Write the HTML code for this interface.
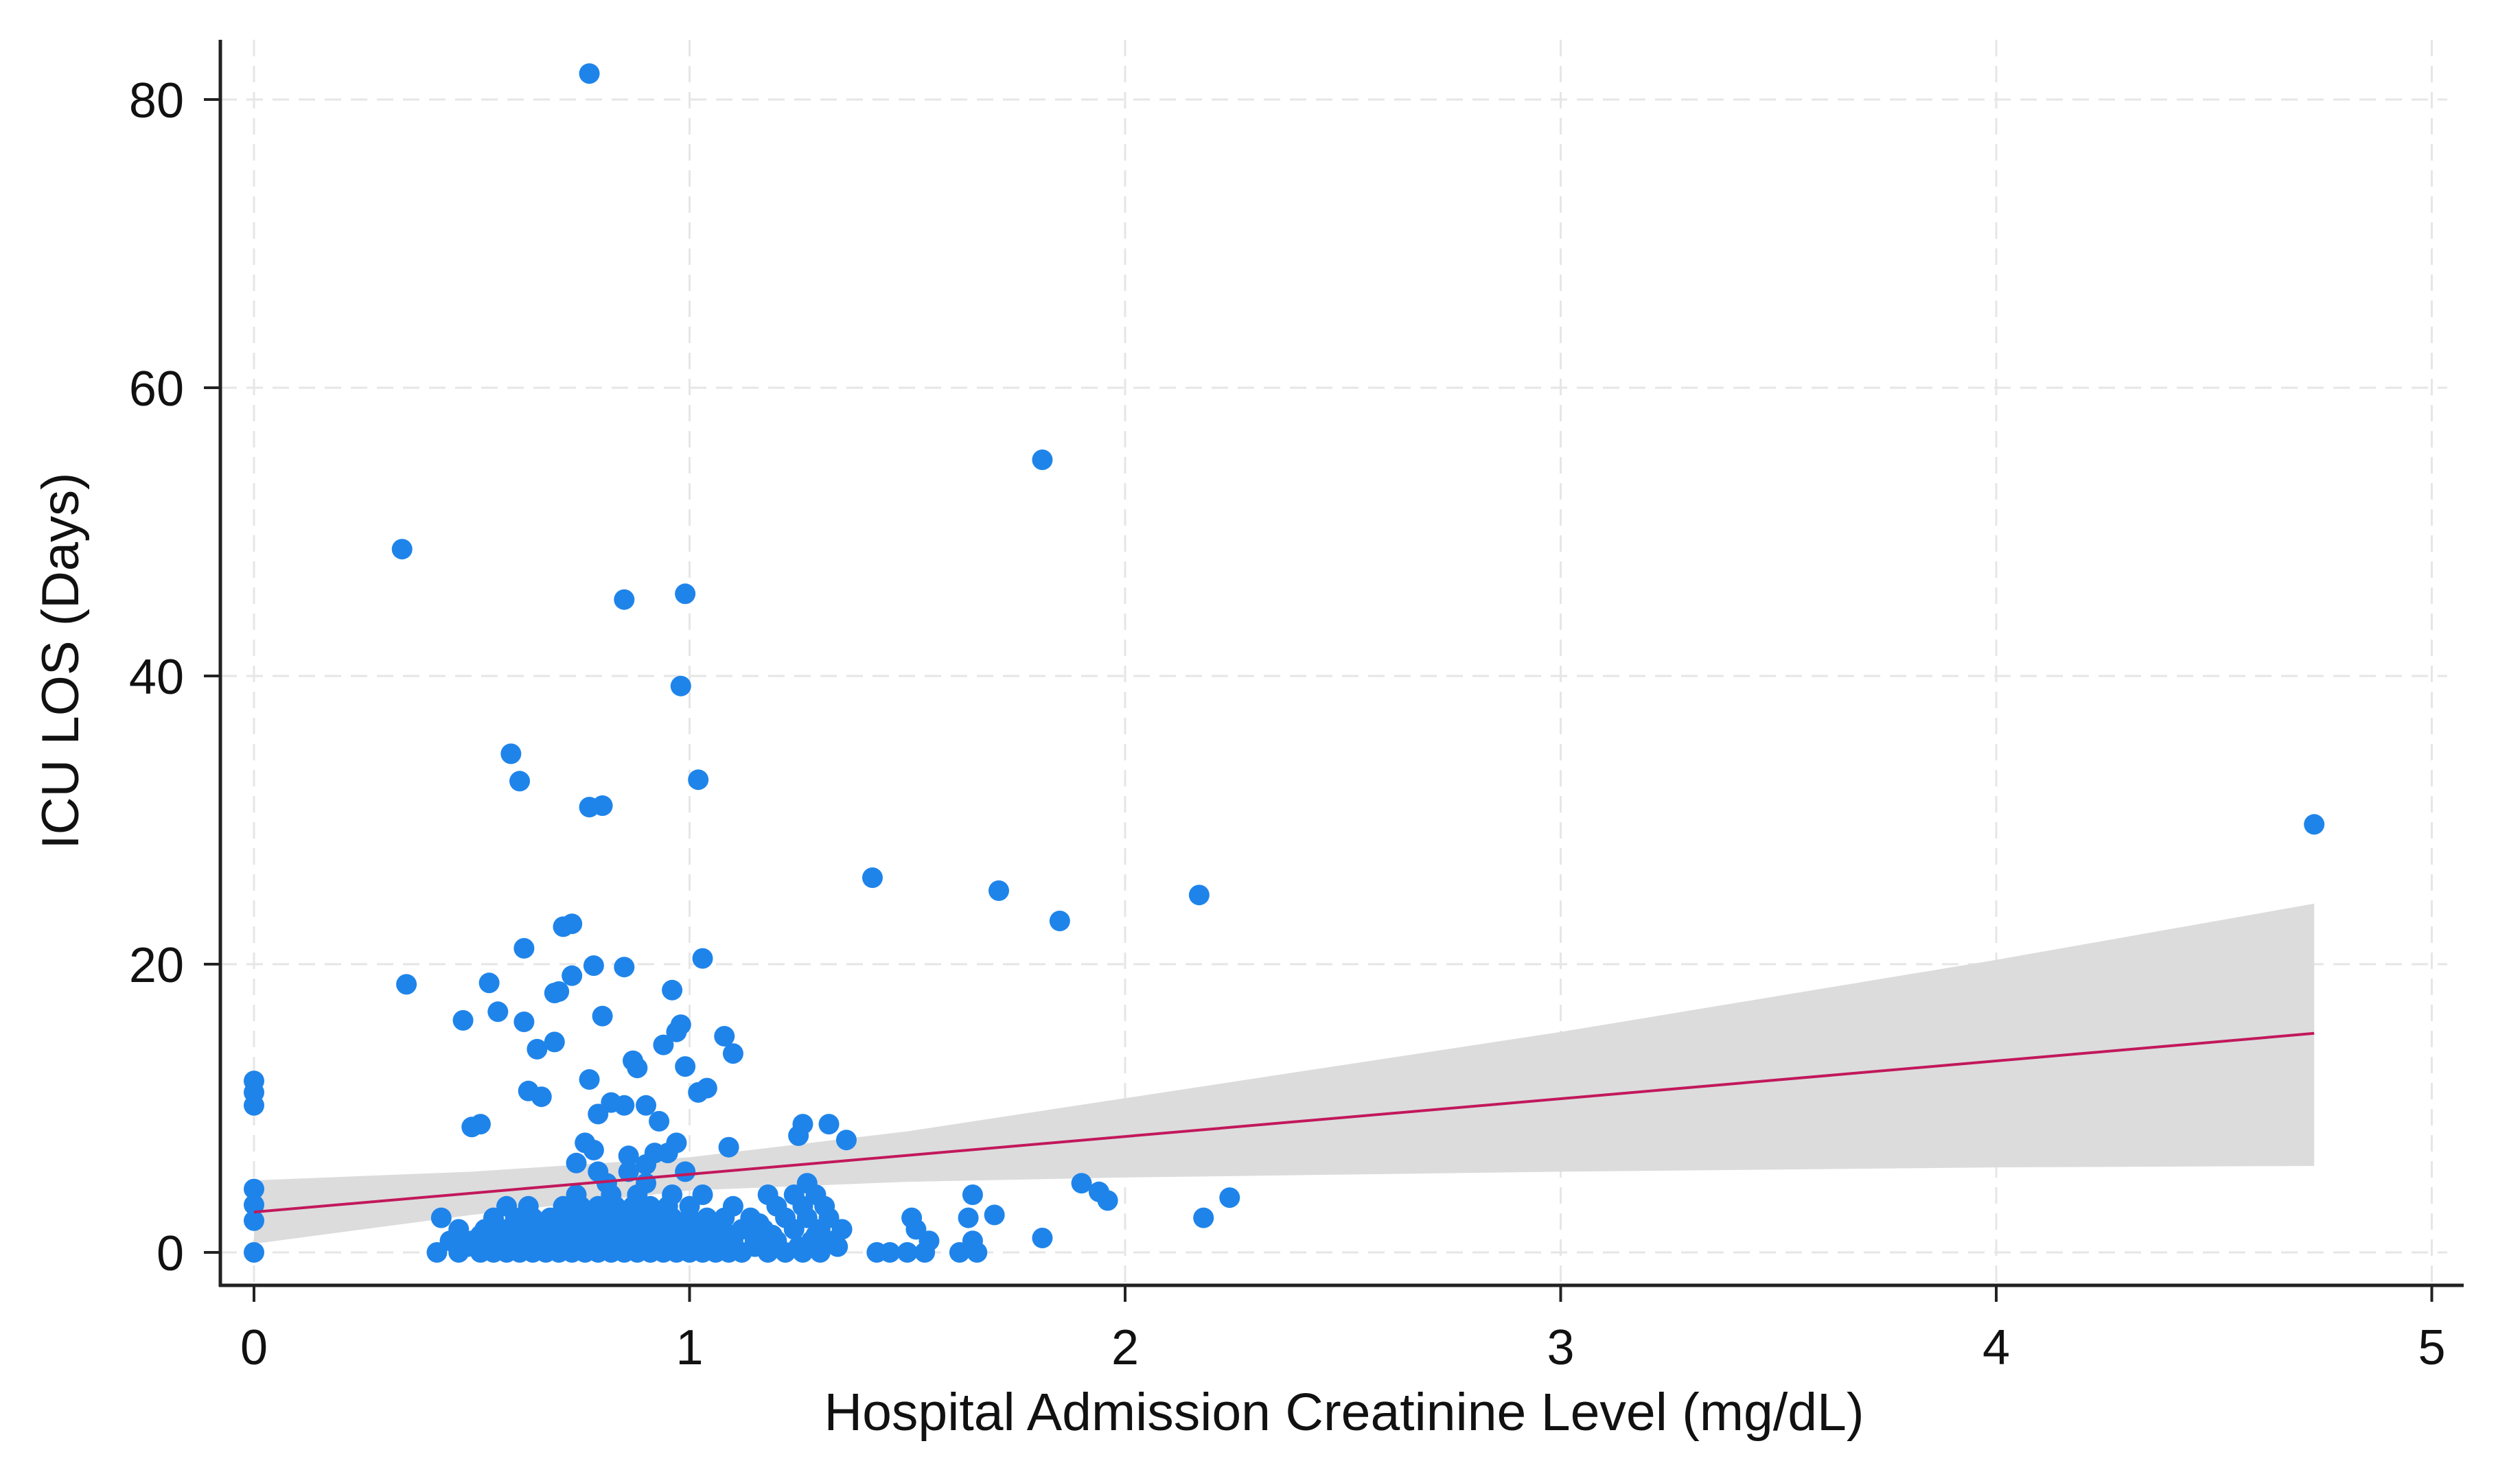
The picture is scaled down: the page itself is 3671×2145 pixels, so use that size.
<!DOCTYPE html>
<html><head><meta charset="utf-8"><style>
html,body{margin:0;padding:0;background:#fff;}
svg{display:block;font-family:"Liberation Sans",Arial,sans-serif;}
</style></head><body>
<svg id="chart" width="3671" height="2145" viewBox="0 0 3671 2145" xmlns="http://www.w3.org/2000/svg">
<rect width="3671" height="2145" fill="#fff"/>
<g id="grid"></g>
<g id="band"></g>
<g id="pts"></g>
<g id="fit"></g>
<g id="axes"></g>
<text x="1958" y="2084" font-size="77" text-anchor="middle" fill="#111">Hospital Admission Creatinine Level (mg/dL)</text>
<text x="0" y="0" font-size="76" text-anchor="middle" fill="#111" transform="translate(114,963) rotate(-90)">ICU LOS (Days)</text>
</svg>
<script>
const xTicks = [0,1,2,3,4,5];
const yTicks = [0,20,40,60,80];
const fitX = [0, 4.73];
const fitY = [2.8, 15.2];
const bandX = [0, 0.5, 1, 1.5, 2, 3, 4, 4.73];
const bandLo = [0.6, 2.6, 4.3, 4.9, 5.2, 5.6, 5.9, 6.0];
const bandHi = [5.0, 5.6, 6.6, 8.4, 10.7, 15.3, 20.3, 24.2];
const xValues = [0.77,0.34,1.81,0.85,0.99,0.98,0.59,0.61,0.77,0.80,1.02,1.42,1.71,2.17,1.85,4.73,
0.35,0.54,0.48,0.62,0.71,0.73,0.78,0.85,0.73,0.70,0.69,0.80,0.96,1.03,0.56,0.62,0.69,0.65,0.63,0.66,0.77,0.88,0.87,0.97,0.98,0.94,0.99,1.02,1.04,1.08,1.10,0.82,0.79,0.85,0.90,0.93,0.52,0.50,0.86,0.97,0.95,1.09,1.26,1.32,1.25,1.36,0,0,0,0,0,0,0,0.76,0.78,0.74,0.90,0.92,
0.42,0.47,0.52,0.55,0.58,0.61,0.64,0.67,0.70,0.73,0.76,0.79,0.82,0.85,0.88,0.91,0.94,0.97,1.00,1.03,1.06,1.09,1.12,1.18,1.22,1.26,1.30,1.43,1.46,1.50,1.54,1.62,1.66,
0.45,0.50,0.54,0.58,0.62,0.66,0.70,0.74,0.78,0.82,0.86,0.90,0.94,0.98,1.02,1.06,1.10,1.15,1.20,1.28,1.33,1.55,1.65,1.81,
0.47,0.53,0.57,0.61,0.65,0.69,0.73,0.77,0.81,0.85,0.89,0.93,0.97,1.01,1.05,1.12,1.17,1.24,1.30,1.35,1.52,
0.43,0.55,0.60,0.64,0.68,0.72,0.76,0.80,0.84,0.88,0.92,0.96,1.00,1.04,1.08,1.14,1.22,1.27,1.32,1.51,1.64,1.70,2.18,
0.58,0.63,0.71,0.75,0.79,0.83,0.87,0.91,0.95,1.00,1.10,1.20,1.26,1.31,
0.74,0.82,0.88,0.96,1.03,1.18,1.24,1.29,1.65,1.96,2.24,1.94,
0.81,0.90,1.27,1.90,0.79,0.86,0.99,
0.49,0.56,0.63,0.69,0.75,0.81,0.87,0.93,0.99,1.05,1.15,1.25,1.34,
0.52,0.60,0.67,0.74,0.80,0.88,0.95,1.02,1.10,1.19,1.29,
0.66,0.78,0.84,0.92,0.99,1.07,1.16];
const yValues = [81.8,48.8,55,45.3,45.7,39.3,34.6,32.7,30.9,31,32.8,26,25.1,24.8,23,29.7,
18.6,18.7,16.1,21.1,22.6,22.8,19.9,19.8,19.2,18.1,18,16.4,18.2,20.4,16.7,16,14.6,14.1,11.2,10.8,12,12.8,13.3,15.3,15.8,14.4,12.9,11.1,11.4,15,13.8,10.4,9.6,10.2,10.2,9.1,8.9,8.7,6.7,7.6,6.9,7.3,8.9,8.9,8.1,7.8,11.9,11.1,10.2,4.4,3.3,2.2,0,7.6,7.1,6.2,6.1,6.9,
0,0,0,0,0,0,0,0,0,0,0,0,0,0,0,0,0,0,0,0,0,0,0,0,0,0,0,0,0,0,0,0,0,
0.8,0.8,0.8,0.8,0.8,0.8,0.8,0.8,0.8,0.8,0.8,0.8,0.8,0.8,0.8,0.8,0.8,0.8,0.8,0.8,0.8,0.8,0.8,1.0,
1.6,1.6,1.6,1.6,1.6,1.6,1.6,1.6,1.6,1.6,1.6,1.6,1.6,1.6,1.6,1.6,1.6,1.6,1.6,1.6,1.6,
2.4,2.4,2.4,2.4,2.4,2.4,2.4,2.4,2.4,2.4,2.4,2.4,2.4,2.4,2.4,2.4,2.4,2.4,2.4,2.4,2.4,2.6,2.4,
3.2,3.2,3.2,3.2,3.2,3.2,3.2,3.2,3.2,3.2,3.2,3.2,3.2,3.2,
4,4,4,4,4,4,4,4,4,3.6,3.8,4.2,
4.8,4.8,4.8,4.8,5.6,5.6,5.6,
0.4,0.4,0.4,0.4,0.4,0.4,0.4,0.4,0.4,0.4,0.4,0.4,0.4,
1.2,1.2,1.2,1.2,1.2,1.2,1.2,1.2,1.2,1.2,1.2,
2.0,2.0,2.0,2.0,2.0,2.0,2.0];

const NS = "http://www.w3.org/2000/svg";
const X0 = 370, XU = 634.5, Y0 = 1825, YU = 21;
function sx(v){ return X0 + v*XU; }
function sy(v){ return Y0 - v*YU; }
function mk(tag, attrs, parent){
  const e = document.createElementNS(NS, tag);
  for (const k in attrs) e.setAttribute(k, attrs[k]);
  parent.appendChild(e); return e;
}
const grid = document.getElementById('grid');
xTicks.forEach(t => {
  const l = mk('line', {x1:sx(t), x2:sx(t), y1:58, y2:1873, stroke:'#e6e6e6', 'stroke-width':3, 'stroke-dasharray':'24 14'}, grid);
  
  
});
yTicks.forEach(t => {
  const l = mk('line', {x1:321, x2:3565, y1:sy(t), y2:sy(t), stroke:'#e6e6e6', 'stroke-width':3, 'stroke-dasharray':'24 14'}, grid);
  
  
});
let d = '';
bandX.forEach((v,i) => { d += (i ? 'L' : 'M') + sx(v) + ',' + sy(bandHi[i]); });
for (let i = bandX.length-1; i >= 0; i--) d += 'L' + sx(bandX[i]) + ',' + sy(bandLo[i]);
const band = mk('path', {d: d + 'Z', fill:'#dcdcdc'}, document.getElementById('band'));


const pts = document.getElementById('pts');
xValues.forEach((v,i) => {
  const c = mk('circle', {cx:sx(v), cy:sy(yValues[i]), r:15, fill:'#1f84ea'}, pts);
  
  
});
const fl = mk('line', {x1:sx(fitX[0]), y1:sy(fitY[0]), x2:sx(fitX[1]), y2:sy(fitY[1]), stroke:'#c2185b', 'stroke-width':4}, document.getElementById('fit'));


const ax = document.getElementById('axes');
const ya = mk('line', {x1:321, x2:321, y1:58, y2:1875, stroke:'#222', 'stroke-width':5}, ax);


const xa = mk('line', {x1:319, x2:3589, y1:1873, y2:1873, stroke:'#222', 'stroke-width':5}, ax);


xTicks.forEach(t => {
  const tk = mk('line', {x1:sx(t), x2:sx(t), y1:1873, y2:1897, stroke:'#222', 'stroke-width':4}, ax);
  
  
  const tx = mk('text', {x:sx(t), y:1988, 'font-size':72, 'text-anchor':'middle', fill:'#111'}, ax);
  tx.textContent = String(t);
  
  
});
yTicks.forEach(t => {
  const tk = mk('line', {x1:297, x2:321, y1:sy(t), y2:sy(t), stroke:'#222', 'stroke-width':4}, ax);
  
  
  const tx = mk('text', {x:268, y:sy(t)+26, 'font-size':72, 'text-anchor':'end', fill:'#111'}, ax);
  tx.textContent = String(t);
  
  
});
</script>
</body></html>
